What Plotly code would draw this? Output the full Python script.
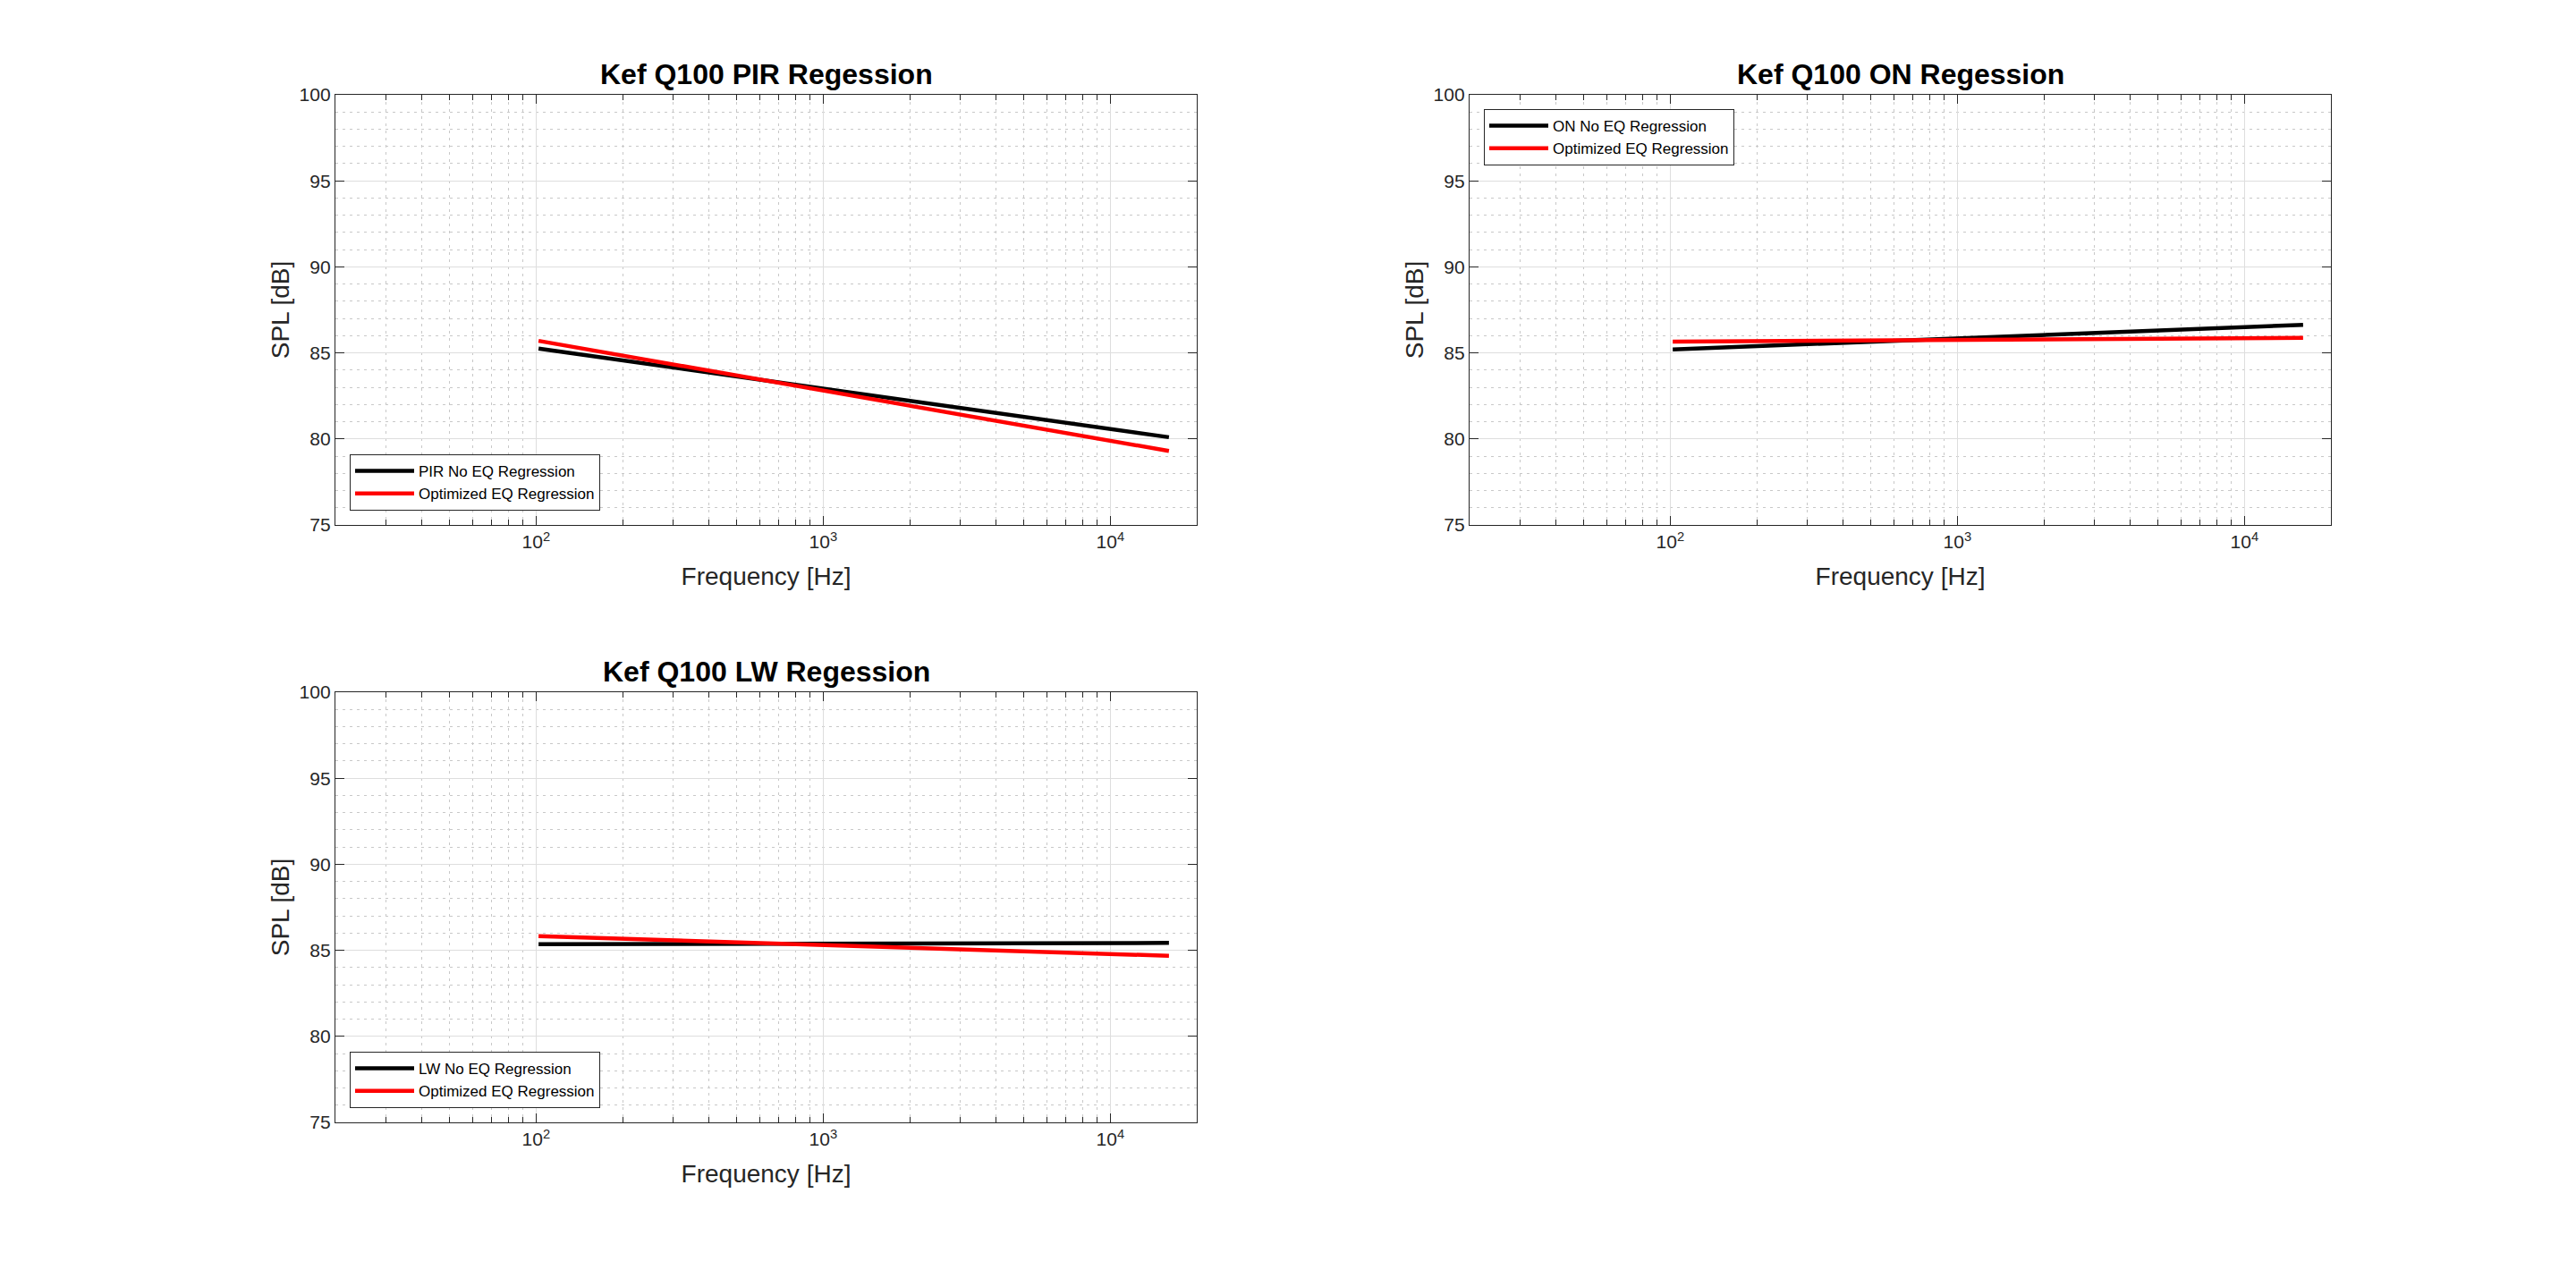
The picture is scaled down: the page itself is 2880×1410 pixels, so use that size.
import plotly.graph_objects as go

# ---- data ----
freq = [102, 16000]

pir_noeq = [85.25, 80.10]
pir_opt = [85.70, 79.30]

on_noeq = [85.20, 86.63]
on_opt = [85.65, 85.87]

lw_noeq = [85.35, 85.43]
lw_opt = [85.82, 84.68]

titles = ["Kef Q100 PIR Regession", "Kef Q100 ON Regession", "Kef Q100 LW Regession"]
names_noeq = ["PIR No EQ Regression", "ON No EQ Regression", "LW No EQ Regression"]
name_opt = "Optimized EQ Regression"

x_major = [100, 1000, 10000]
x_major_text = ["10<sup>2</sup>", "10<sup>3</sup>", "10<sup>4</sup>"]
x_minor = [20, 30, 40, 50, 60, 70, 80, 90,
           200, 300, 400, 500, 600, 700, 800, 900,
           2000, 3000, 4000, 5000, 6000, 7000, 8000, 9000]
y_ticks = [75, 80, 85, 90, 95, 100]

FONT = "Liberation Sans, Arial, Helvetica, sans-serif"
AX = "#262626"

# page has an 8px body margin; figure sized to fit the 2880x1410 window
W, H, OFF = 2864, 1394, 8

def px_x(p):
    return (p - OFF) / W

def px_y(p):
    return 1 - (p - OFF) / H

fig = go.Figure()

series = [(pir_noeq, pir_opt), (on_noeq, on_opt), (lw_noeq, lw_opt)]
legends = ["legend", "legend2", "legend3"]
for i, (noeq, opt) in enumerate(series):
    xa = "x" if i == 0 else f"x{i+1}"
    ya = "y" if i == 0 else f"y{i+1}"
    fig.add_trace(go.Scatter(x=freq, y=noeq, mode="lines", name=names_noeq[i],
                             line=dict(color="black", width=4.5),
                             xaxis=xa, yaxis=ya, legend=legends[i]))
    fig.add_trace(go.Scatter(x=freq, y=opt, mode="lines", name=name_opt,
                             line=dict(color="#ff0000", width=4.5),
                             xaxis=xa, yaxis=ya, legend=legends[i]))

doms = [
    ([px_x(375), px_x(1338)], [px_y(587), px_y(106)]),
    ([px_x(1643), px_x(2606)], [px_y(587), px_y(106)]),
    ([px_x(375), px_x(1338)], [px_y(1255), px_y(774)]),
]

def xaxis(dom, anchor):
    return dict(
        type="log", range=[1.30103, 4.30103], domain=dom, anchor=anchor,
        tickvals=x_major, ticktext=x_major_text,
        ticks="inside", ticklen=10, tickwidth=1, tickcolor=AX,
        showline=True, linecolor=AX, linewidth=1.3, mirror="allticks",
        showgrid=True, gridcolor="#dedede", gridwidth=1, zeroline=False,
        tickfont=dict(family=FONT, size=21, color=AX),
        title=dict(text="Frequency [Hz]", font=dict(family=FONT, size=28, color=AX), standoff=18),
        minor=dict(tickvals=x_minor, ticks="inside", ticklen=6, tickcolor=AX, tickwidth=1,
                   showgrid=True, gridcolor="#c8c8c8", gridwidth=1, griddash="3px,5px"),
        automargin=False,
    )

def yaxis(dom, anchor):
    return dict(
        range=[75, 100], domain=dom, anchor=anchor,
        tickvals=y_ticks,
        ticks="inside", ticklen=10, tickwidth=1, tickcolor=AX,
        showline=True, linecolor=AX, linewidth=1.3, mirror="allticks",
        showgrid=True, gridcolor="#dedede", gridwidth=1, zeroline=False,
        tickfont=dict(family=FONT, size=21, color=AX),
        title=dict(text="SPL [dB]", font=dict(family=FONT, size=28, color=AX), standoff=2),
        minor=dict(dtick=1, ticks="", showgrid=True, gridcolor="#c8c8c8",
                   gridwidth=1, griddash="3px,5px"),
        automargin=False,
    )

layout = dict(
    width=W, height=H,
    margin=dict(l=0, r=0, t=0, b=0),
    paper_bgcolor="white", plot_bgcolor="white",
    font=dict(family=FONT, color=AX),
    showlegend=True,
)
for i, (xd, yd) in enumerate(doms):
    sx = "" if i == 0 else str(i + 1)
    layout["xaxis" + sx] = xaxis(xd, "y" + sx)
    layout["yaxis" + sx] = yaxis(yd, "x" + sx)

leg_common = dict(bgcolor="white", bordercolor=AX, borderwidth=1,
                  font=dict(family=FONT, size=17, color="black"),
                  itemwidth=66, tracegroupgap=0, xanchor="left")
layout["legend"] = dict(leg_common, x=px_x(391), y=px_y(571), yanchor="bottom")
layout["legend2"] = dict(leg_common, x=px_x(1659), y=px_y(122), yanchor="top")
layout["legend3"] = dict(leg_common, x=px_x(391), y=px_y(1239), yanchor="bottom")

annotations = []
for i, (xd, yd) in enumerate(doms):
    annotations.append(dict(
        text="<b>" + titles[i] + "</b>", xref="paper", yref="paper",
        x=(xd[0] + xd[1]) / 2, y=yd[1] + 3 / H, xanchor="center", yanchor="bottom",
        showarrow=False, font=dict(family=FONT, size=32, color="black")))
layout["annotations"] = annotations

fig.update_layout(**layout)
fig.write_html("out.html")
